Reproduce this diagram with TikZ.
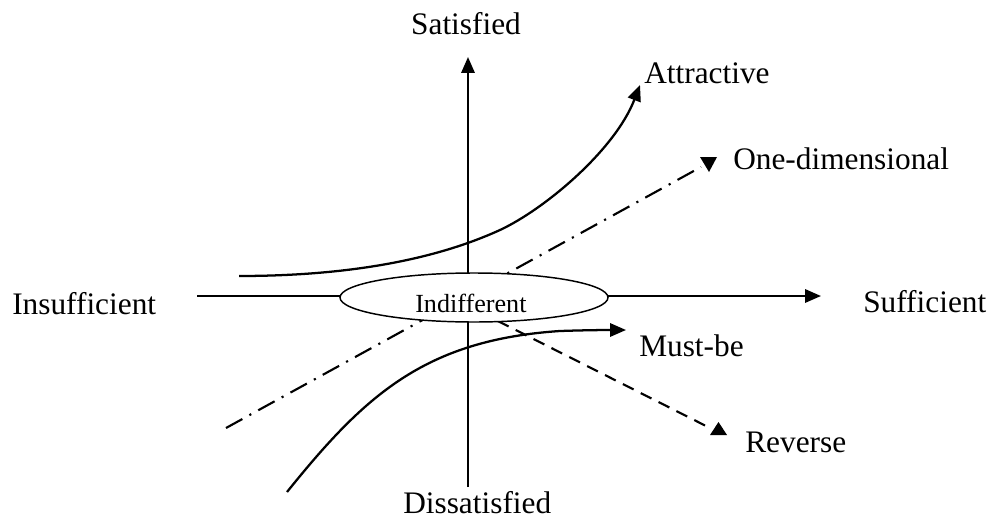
\documentclass[tikz,border=0pt]{standalone}
\usepackage{fontspec}
\setmainfont{Liberation Serif}
\usetikzlibrary{arrows.meta,shapes.geometric}
\begin{document}
\begin{tikzpicture}[x=0.75pt,y=-0.75pt,
  lbl/.style={inner sep=0pt,anchor=base west,font=\fontsize{23.5}{28}\selectfont},
  axis/.style={line width=1.7pt,-{Triangle[length=12pt,width=10pt]}},
  curve/.style={line width=1.7pt,-{Triangle[length=12pt,width=10pt]}},
  dashdotline/.style={line width=1.6pt,dash pattern=on 14pt off 6pt on 1.6pt off 6pt},
  dashline/.style={line width=1.6pt,dash pattern=on 9pt off 6pt},
  tip/.style={fill=black}]
\useasboundingbox (0,0) rectangle (991,528);
% coordinates
\coordinate (hL) at (197,296);
\coordinate (hR) at (821,296);
\coordinate (vB) at (468,487);
\coordinate (vT) at (468,57);
\coordinate (attS) at (239,276);
\coordinate (attM) at (500,230);
\coordinate (attE) at (640,85);
\coordinate (mbS) at (287,492);
\coordinate (mbM) at (560,331);
\coordinate (mbE) at (626,330);
\coordinate (odS) at (226,428);
\coordinate (odE) at (701,167);
\coordinate (rvS) at (480,312);
\coordinate (rvE) at (712,429);
% axes
\draw[axis] (hL) -- (hR);
\draw[axis] (vB) -- (vT);
% curves
\draw[curve] (attS) .. controls (340,276) and (430,262) .. (attM)
  .. controls (545,209) and (615,150) .. (attE);
\draw[curve] (mbS) .. controls (365,395) and (425,340) .. (mbM)
  .. controls (590,330) and (610,330) .. (mbE);
\draw[dashdotline] (odS) -- (odE);
\fill[tip] (700,157) -- (717,157) -- (709,172) -- cycle;
\draw[dashline] (rvS) -- (rvE);
\fill[tip] (710,435) -- (727,435) -- (718.5,422) -- cycle;
% ellipse
\node[ellipse,draw,line width=1.1pt,fill=white,inner sep=0pt,
  minimum width=268*0.75pt,minimum height=49*0.75pt] (ind) at (474,297.5) {};
\node[inner sep=0pt,anchor=base west,font=\fontsize{19.6}{23}\selectfont] (indt) at (415,312) {Indifferent};
% labels
\node[lbl,anchor=base] (sat) at (466,35) {Satisfied};
\node[lbl] (att) at (644,84) {Attractive};
\node[lbl] (one) at (733,169) {One-dimensional};
\node[lbl] (insuf) at (12,314) {Insufficient};
\node[lbl] (suf) at (863,312) {Sufficient};
\node[lbl] (must) at (639,356) {Must-be};
\node[lbl] (rev) at (745,452) {Reverse};
\node[lbl] (dis) at (403,513) {Dissatisfied};
\end{tikzpicture}
\end{document}
